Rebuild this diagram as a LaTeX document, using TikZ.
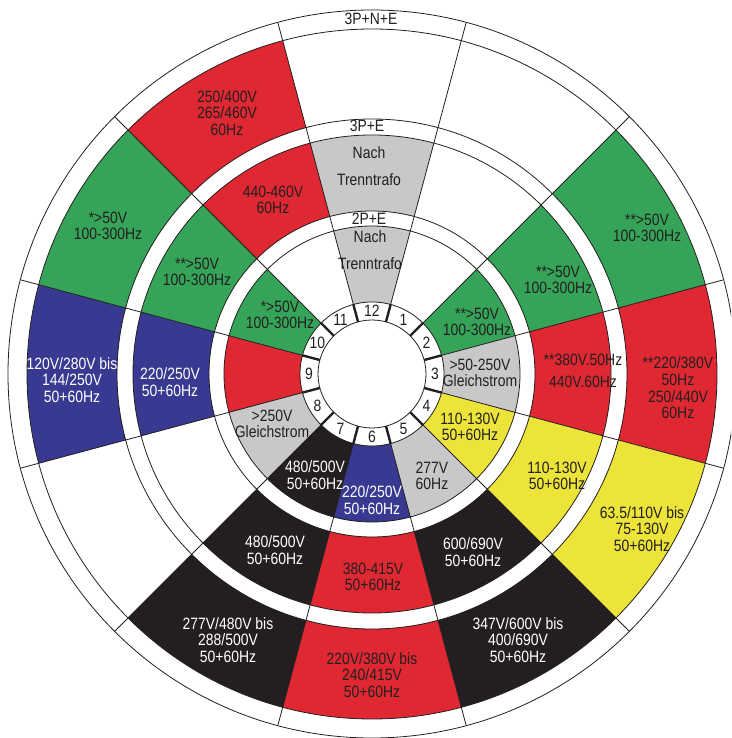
\documentclass[tikz,border=0pt]{standalone}
\usepackage{fontspec}
\setmainfont[FakeStretch=0.85]{Liberation Sans}

\definecolor{ink}{RGB}{35,31,32}
\definecolor{cred}{RGB}{224,40,50}
\definecolor{cgreen}{RGB}{53,164,89}
\definecolor{cblue}{RGB}{56,58,145}
\definecolor{cyellow}{RGB}{237,228,58}
\definecolor{cgray}{RGB}{200,200,200}
\definecolor{cblack}{RGB}{35,31,32}

\tikzset{
  txt/.style={font=\fontsize{16.4}{16.6}\selectfont, align=center, inner sep=0pt, text=ink},
  txtw/.style={txt, text=white},
  ring/.style={draw=ink, line width=0.8pt},
  spoke/.style={draw=ink, line width=0.8pt},
  numspoke/.style={draw=ink, line width=2.4pt}
}

%% sector #3 (clock hour) between radius #1 and #2
\newcommand\sector[4]{%
  \pgfmathsetmacro\secA{105-30*#3}%
  \pgfmathsetmacro\secB{75-30*#3}%
  \fill[#4] (\secA:#1pt) -- (\secA:#2pt) arc[start angle=\secA, end angle=\secB, radius=#2pt]
    -- (\secB:#1pt) arc[start angle=\secB, end angle=\secA, radius=#1pt] -- cycle;}

\begin{document}
\begin{tikzpicture}[x=1pt,y=1pt]

\newcommand\RA{364}  %% outer circle
\newcommand\RB{345}  %% 3P+N+E band
\newcommand\RC{255}
\newcommand\RD{239}  %% 3P+E band
\newcommand\RE{163}
\newcommand\RF{148}  %% 2P+E band
\newcommand\RG{72}
\newcommand\RH{54}   %% number ring

  \useasboundingbox (-372,-364) rectangle (359,374);
  \clip (-372,-364) rectangle (359,374);

  %% 3P+N+E
  \sector{\RC}{\RB}{2}{cgreen}
  \sector{\RC}{\RB}{3}{cred}
  \sector{\RC}{\RB}{4}{cyellow}
  \sector{\RC}{\RB}{5}{cblack}
  \sector{\RC}{\RB}{6}{cred}
  \sector{\RC}{\RB}{7}{cblack}
  \sector{\RC}{\RB}{9}{cblue}
  \sector{\RC}{\RB}{10}{cgreen}
  \sector{\RC}{\RB}{11}{cred}

  %% 3P+E
  \sector{\RE}{\RD}{12}{cgray}
  \sector{\RE}{\RD}{2}{cgreen}
  \sector{\RE}{\RD}{3}{cred}
  \sector{\RE}{\RD}{4}{cyellow}
  \sector{\RE}{\RD}{5}{cblack}
  \sector{\RE}{\RD}{6}{cred}
  \sector{\RE}{\RD}{7}{cblack}
  \sector{\RE}{\RD}{9}{cblue}
  \sector{\RE}{\RD}{10}{cgreen}
  \sector{\RE}{\RD}{11}{cred}

  %% 2P+E
  \sector{\RG}{\RF}{12}{cgray}
  \sector{\RG}{\RF}{2}{cgreen}
  \sector{\RG}{\RF}{3}{cgray}
  \sector{\RG}{\RF}{4}{cyellow}
  \sector{\RG}{\RF}{5}{cgray}
  \sector{\RG}{\RF}{6}{cblue}
  \sector{\RG}{\RF}{7}{cblack}
  \sector{\RG}{\RF}{8}{cgray}
  \sector{\RG}{\RF}{9}{cred}
  \sector{\RG}{\RF}{10}{cgreen}

  %% circles and spokes
  \foreach \r in {\RA,\RB,\RC,\RD,\RE,\RF,\RG,\RH}
    \draw[ring] (0,0) circle[radius=\r pt];
  \foreach \a in {15,45,...,345} {
    \draw[spoke] (\a:\RG pt) -- (\a:\RA pt);
    \draw[numspoke] (\a:\RH pt) -- (\a:\RG pt);
  }
  \foreach \h in {1,...,12}
    \node[txt] (n\h) at ({90-30*\h}:63) {\h};

  %% band labels
  \node[txt] (pne) at (-1,355) {3P+N+E};
  \node[txt] (pe) at (-5,248) {3P+E};
  \node[txt] (twope) at (-3,155) {2P+E};

  %% 3P+N+E texts
  \node[txt] (o11) at (-145,261) {250/400V\\265/460V\\60Hz};
  \node[txt] (o10) at (-264,148) {*>50V\\100-300Hz};
  \node[txtw] (o9) at (-300,-6) {120V/280V bis\\144/250V\\50+60Hz};
  \node[txtw] (o7) at (-144,-266) {277V/480V bis\\288/500V\\50+60Hz};
  \node[txt] (o6) at (0,-301) {220V/380V bis\\240/415V\\50+60Hz};
  \node[txtw] (o5) at (146,-266) {347V/600V bis\\400/690V\\50+60Hz};
  \node[txt] (o4) at (270,-155) {63.5/110V bis\\75-130V\\50+60Hz};
  \node[txt] (o3) at (306,-14) {**220/380V\\50Hz\\250/440V\\60Hz};
  \node[txt] (o2) at (275,146) {**>50V\\100-300Hz};

  %% 3P+E texts
  \node[txt] (m12) at (-3,208) {Nach\\[11pt]Trenntrafo};
  \node[txt] (m11) at (-99,174) {440-460V\\60Hz};
  \node[txt] (m10) at (-175,102) {**>50V\\100-300Hz};
  \node[txtw] (m9) at (-202,-8) {220/250V\\50+60Hz};
  \node[txtw] (m7) at (-97,-176) {480/500V\\50+60Hz};
  \node[txt] (m6) at (1,-203) {380-415V\\50+60Hz};
  \node[txtw] (m5) at (101,-178) {600/690V\\50+60Hz};
  \node[txt] (m4) at (185,-102) {110-130V\\50+60Hz};
  \node[txt] (m3) at (211,3) {**380V.50Hz\\[5pt]440V.60Hz};
  \node[txt] (m2) at (186,94) {**>50V\\100-300Hz};

  %% 2P+E texts
  \node[txt] (i12) at (-2,124) {Nach\\[11pt]Trenntrafo};
  \node[txt] (i10) at (-92,59) {*>50V\\100-300Hz};
  \node[txt] (i8) at (-100,-50) {>250V\\Gleichstrom};
  \node[txtw] (i7) at (-57,-101) {480/500V\\50+60Hz};
  \node[txtw] (i6) at (0,-126) {220/250V\\50+60Hz};
  \node[txt] (i5) at (60,-102) {277V\\60Hz};
  \node[txt] (i4) at (98,-53) {110-130V\\50+60Hz};
  \node[txt] (i3) at (108,1) {>50-250V\\Gleichstrom};
  \node[txt] (i2) at (105,52) {**>50V\\100-300Hz};

\end{tikzpicture}
\end{document}
